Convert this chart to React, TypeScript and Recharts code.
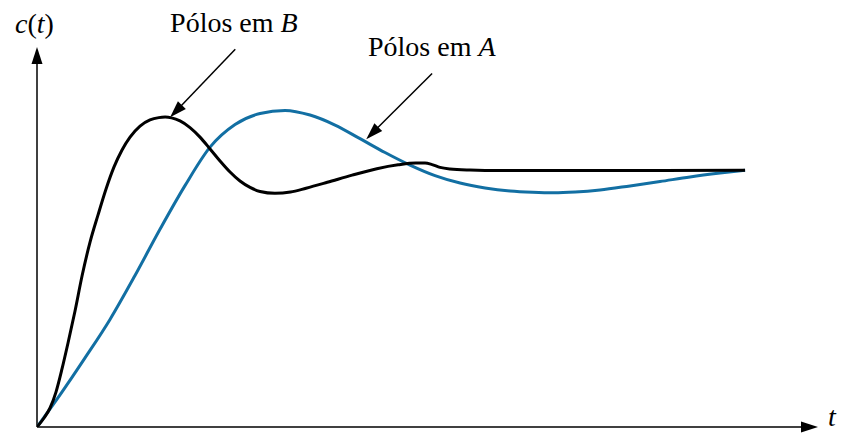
import { LineChart, Line, XAxis, YAxis, ReferenceLine, ReferenceDot } from 'recharts';

// resposta com pólos em B (preta)
const tB = [0, 0.099, 0.184, 0.268, 0.353, 0.438, 0.537, 0.636, 0.749, 0.862, 0.975, 1.088, 1.201, 1.314, 1.455, 1.596, 1.72, 1.81, 1.9, 2.02, 2.161, 2.302, 2.444, 2.585, 2.726, 2.867, 3.009, 3.15, 3.36, 3.58, 3.8, 4.1, 4.45, 4.8, 5.1, 5.35, 5.48, 5.579, 5.692, 5.833, 6.116, 6.54, 7.952, 10];
const cB = [0, 0.035, 0.074, 0.136, 0.226, 0.327, 0.452, 0.588, 0.72, 0.826, 0.927, 1.013, 1.079, 1.129, 1.172, 1.196, 1.205, 1.207, 1.204, 1.192, 1.166, 1.129, 1.083, 1.036, 0.993, 0.958, 0.933, 0.917, 0.91, 0.915, 0.93, 0.953, 0.981, 1.006, 1.021, 1.028, 1.028, 1.022, 1.011, 1.005, 1.001, 0.999, 0.999, 1.0];

// resposta com pólos em A (azul)
const tA = [0, 0.325, 0.678, 1.031, 1.384, 1.737, 2.09, 2.444, 2.797, 3.15, 3.503, 3.856, 4.209, 4.562, 4.915, 5.268, 5.621, 5.975, 6.328, 6.681, 7.0, 7.3, 7.6, 7.952, 8.376, 8.799, 9.223, 9.647, 10];
const cA = [0, 0.125, 0.269, 0.419, 0.59, 0.77, 0.94, 1.09, 1.178, 1.221, 1.233, 1.215, 1.176, 1.123, 1.069, 1.02, 0.979, 0.95, 0.931, 0.919, 0.914, 0.912, 0.915, 0.923, 0.939, 0.956, 0.974, 0.989, 1.0];

const dataB = tB.map((t, i) => ({ t, c: cB[i] }));
const dataA = tA.map((t, i) => ({ t, c: cA[i] }));

const BLUE = '#126fa3';
const FONT = "'Liberation Serif', 'Times New Roman', serif";

function Arrow(props: any) {
  const { x1, y1, x2, y2 } = props;
  const len = 17;
  const half = 5.5;
  const dx = x2 - x1;
  const dy = y2 - y1;
  const d = Math.hypot(dx, dy) || 1;
  const ux = dx / d;
  const uy = dy / d;
  const bx = x2 - ux * len;
  const by = y2 - uy * len;
  const pts = `${x2},${y2} ${bx - uy * half},${by + ux * half} ${bx + uy * half},${by - ux * half}`;
  return (
    <g>
      <line x1={x1} y1={y1} x2={bx + ux * 2} y2={by + uy * 2} stroke="#000" strokeWidth={1.5} />
      <polygon points={pts} fill="#000" />
    </g>
  );
}

const label = (content: React.ReactNode) => (p: any) => (
  <text x={p.cx} y={p.cy} fontFamily={FONT} fontSize={28} fill="#000">
    {content}
  </text>
);

export default function App() {
  return (
    <div style={{ position: 'absolute', left: 0, top: 0, width: 846, height: 433, background: '#fff', fontFamily: FONT }}>
      <LineChart width={846} height={433} margin={{ top: 47, left: 37, right: 28, bottom: 6 }} style={{ fontFamily: FONT }}>
        <XAxis hide type="number" dataKey="t" domain={[0, 11.03]} allowDataOverflow />
        <YAxis hide type="number" domain={[0, 1.48]} allowDataOverflow />

        {/* eixos com setas */}
        <ReferenceLine segment={[{ x: 0, y: 0 }, { x: 11.03, y: 0 }]} ifOverflow="visible" shape={Arrow} />
        <ReferenceLine segment={[{ x: 0, y: 0 }, { x: 0, y: 1.48 }]} ifOverflow="visible" shape={Arrow} />

        <Line data={dataA} dataKey="c" type="monotone" stroke={BLUE} strokeWidth={3} dot={false} isAnimationActive={false} />
        <Line data={dataB} dataKey="c" type="monotone" stroke="#000" strokeWidth={3} dot={false} isAnimationActive={false} />

        {/* setas das anotações */}
        <ReferenceLine segment={[{ x: 2.8, y: 1.471 }, { x: 1.88, y: 1.206 }]} ifOverflow="visible" shape={Arrow} />
        <ReferenceLine segment={[{ x: 5.58, y: 1.377 }, { x: 4.65, y: 1.121 }]} ifOverflow="visible" shape={Arrow} />

        <ReferenceDot x={-0.31} y={1.534} r={0} ifOverflow="visible" shape={label(<><tspan fontStyle="italic">c</tspan>(<tspan fontStyle="italic">t</tspan>)</>)} />
        <ReferenceDot x={1.88} y={1.538} r={0} ifOverflow="visible" shape={label(<>Pólos em <tspan fontStyle="italic">B</tspan></>)} />
        <ReferenceDot x={4.675} y={1.445} r={0} ifOverflow="visible" shape={label(<>Pólos em <tspan fontStyle="italic">A</tspan></>)} />
        <ReferenceDot x={11.17} y={0.004} r={0} ifOverflow="visible" shape={label(<tspan fontStyle="italic">t</tspan>)} />
      </LineChart>
    </div>
  );
}
